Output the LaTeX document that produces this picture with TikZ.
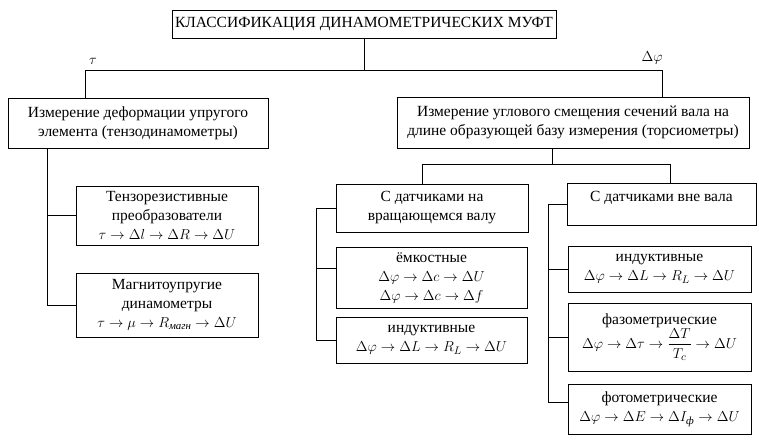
\documentclass[tikz,border=0pt]{standalone}
\usepackage{amsmath}
\usepackage{fontspec}
\setmainfont{Liberation Serif}
\tikzset{
    box/.style={draw, rectangle, align=center, inner sep=0pt, line width=0.7pt},
    mark label/.style={font=\rmfamily\fontsize{14}{16}\selectfont},
}

\begin{document}
\begin{tikzpicture}[x=1pt, y=-1pt, line width=0.7pt,
    every node/.style={font=\rmfamily\fontsize{15.5}{19}\selectfont}]
    \useasboundingbox (0,0) rectangle (759,442);

    \node[box, minimum width=384, minimum height=28] (title) at (364,24) {КЛАССИФИКАЦИЯ ДИНАМОМЕТРИЧЕСКИХ МУФТ};

    \node[box, minimum width=260, minimum height=50] (strain) at (138,123.5) {Измерение деформации упругого\\ элемента (тензодинамометры)};
    \node[box, minimum width=352, minimum height=51] (twist) at (573,122.5) {Измерение углового смещения сечений вала на\\ длине образующей базу измерения (торсиометры)};

    \node[box, minimum width=182, minimum height=59] (tenzo) at (167,215.5) {Тензорезистивные\\ преобразователи\\ $\tau \to \Delta l \to \Delta R \to \Delta U$};
    \node[box, minimum width=182, minimum height=64] (magn) at (167,305) {Магнитоупругие\\ динамометры\\ $\tau \to \mu \to R_{\text{\itshape магн}} \to \Delta U$};

    \node[box, minimum width=192, minimum height=48] (onshaft) at (432,208) {С датчиками на\\ вращающемся валу};
    \node[box, minimum width=189, minimum height=42, text height=11pt, text depth=17pt] (offshaft) at (661.5,204) {С датчиками вне вала};

    \node[box, minimum width=191, minimum height=61] (cap) at (431.5,277.5) {ёмкостные\\ $\Delta\varphi \to \Delta c \to \Delta U$\\ $\Delta\varphi \to \Delta c \to \Delta f$};
    \node[box, minimum width=191, minimum height=46] (indon) at (431.5,340) {индуктивные\\ $\Delta\varphi \to \Delta L \to R_L \to \Delta U$};

    \node[box, minimum width=183, minimum height=46] (indoff) at (659.5,269) {индуктивные\\ $\Delta\varphi \to \Delta L \to R_L \to \Delta U$};
    \node[box, minimum width=183, minimum height=68] (phase) at (659.5,337) {фазометрические\\ $\Delta\varphi \to \Delta\tau \to \dfrac{\Delta T}{T_c} \to \Delta U$};
    \node[box, minimum width=183, minimum height=50] (photo) at (659.5,409) {фотометрические\\ $\Delta\varphi \to \Delta E \to \Delta I_{\text{\itshape ф}} \to \Delta U$};

    \node[mark label] (tau) at (93,61) {$\tau$};
    \node[mark label] (dphi) at (652,58) {$\Delta\varphi$};

    \coordinate (tbus) at (0,70);
    \coordinate (tl) at (85,70);
    \coordinate (tr) at (662,70);
    \coordinate (mj) at (552,164);
    \coordinate (ml) at (422,164);
    \coordinate (mr) at (670,164);
    \coordinate (lbus) at (47,0);
    \coordinate (sbus) at (316,0);
    \coordinate (obus) at (548,0);
    \coordinate (capin) at ([yshift=9pt]cap.west);
    \coordinate (photoin) at ([yshift=7pt]photo.west);

    \draw (title.south) -- (title.south |- tbus);
    \draw (strain.north -| tl) |- (tr) -- (twist.north -| tr);
    \draw (twist.south -| mj) -- (mj);
    \draw (onshaft.north -| ml) |- (mr) -- (offshaft.north -| mr);

    \draw (strain.south -| lbus) |- (magn.west);
    \draw (lbus |- tenzo.west) -- (tenzo.west);

    \draw (onshaft.west) -| (sbus |- indon.west) -- (indon.west);
    \draw (sbus |- capin) -- (capin);

    \draw (offshaft.west) -| (obus |- photoin) -- (photoin);
    \draw (obus |- indoff.west) -- (indoff.west);
    \draw (obus |- phase.west) -- (phase.west);
\end{tikzpicture}
\end{document}
